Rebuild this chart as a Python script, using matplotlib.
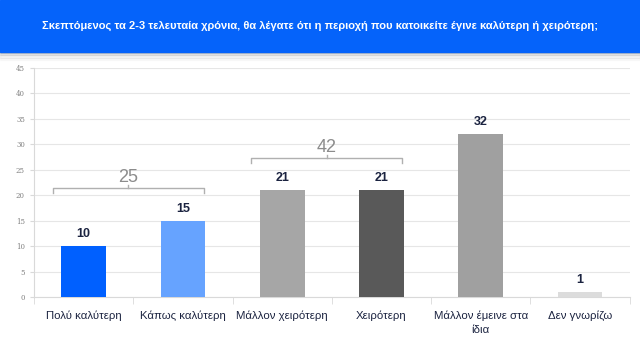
import matplotlib.pyplot as plt
from matplotlib.patches import Rectangle

categories = ['Πολύ καλύτερη', 'Κάπως καλύτερη', 'Μάλλον χειρότερη',
              'Χειρότερη', 'Μάλλον έμεινε στα\nίδια', 'Δεν γνωρίζω']
values = [10, 15, 21, 21, 32, 1]
bar_colors = ['#0060FF', '#66A3FF', '#A6A6A6', '#595959', '#A0A0A0', '#DCDCDC']
group_totals = [25, 42]
group_spans = [(0, 1), (2, 3)]
title = 'Σκεπτόμενος τα 2-3 τελευταία χρόνια, θα λέγατε ότι η περιοχή που κατοικείτε έγινε καλύτερη ή χειρότερη;'

plt.rcParams['font.family'] = ['Liberation Sans', 'DejaVu Sans']

fig = plt.figure(figsize=(6.4, 3.6), dpi=100)
fig.patch.set_facecolor('white')

# banner with a soft shadow
for i, a in enumerate([0.10, 0.07, 0.04, 0.02]):
    fig.patches.append(Rectangle((0, 0.852 - i * 0.006), 1, 0.006, transform=fig.transFigure,
                                 color='black', alpha=a, zorder=0))
fig.patches.append(Rectangle((0, 0.855), 1, 0.145, transform=fig.transFigure,
                             color='#0563FA', zorder=1))
fig.text(0.5, 0.928, title, color='white', fontsize=8, fontweight='bold',
         ha='center', va='center')

ax = fig.add_axes([0.053, 0.175, 0.931, 0.636])
x = list(range(len(categories)))
ax.bar(x, values, width=0.45, color=bar_colors, zorder=3)
for xi, v in zip(x, values):
    ax.text(xi, v + 1.2, str(v), ha='center', va='bottom', fontsize=9,
            fontweight='bold', color='#1B2340')

# bracket totals
for (a, b), total, yb in zip(group_spans, group_totals, [21.4, 27.3]):
    x0, x1 = a - 0.31, b + 0.21
    ax.plot([x0, x0, x1, x1], [yb - 0.9, yb, yb, yb - 0.9], color='#B0B0B0', lw=1, zorder=4)
    ax.plot([(x0 + x1) / 2] * 2, [yb, yb + 0.6], color='#B0B0B0', lw=1, zorder=4)
    ax.text((x0 + x1) / 2, yb + 0.5, str(total), ha='center', va='bottom', fontsize=13,
            color='#8C8C8C')

ax.set_xlim(-0.5, 5.5)
ax.set_ylim(0, 45)
ax.set_yticks(range(0, 46, 5))
ax.yaxis.grid(True, color='#E6E6E6', lw=0.8, zorder=0)
ax.set_axisbelow(True)
for s in ['top', 'right']:
    ax.spines[s].set_visible(False)
ax.spines['left'].set_color('#D9D9D9')
ax.spines['bottom'].set_color('#D9D9D9')
ax.tick_params(axis='y', length=3, color='#D9D9D9', labelsize=5, labelcolor='#808080')
for lab in ax.get_yticklabels():
    lab.set_family(['DejaVu Serif'])
ax.set_xticks(x)
ax.set_xticklabels(categories, fontsize=8.2, color='#1B2340', linespacing=1.5)
ax.tick_params(axis='x', length=0, pad=10)
ax.set_xticks([i + 0.5 for i in range(-1, 6)], minor=True)
ax.tick_params(axis='x', which='minor', length=5, color='#D9D9D9')

fig.savefig('out.png', dpi=100)
